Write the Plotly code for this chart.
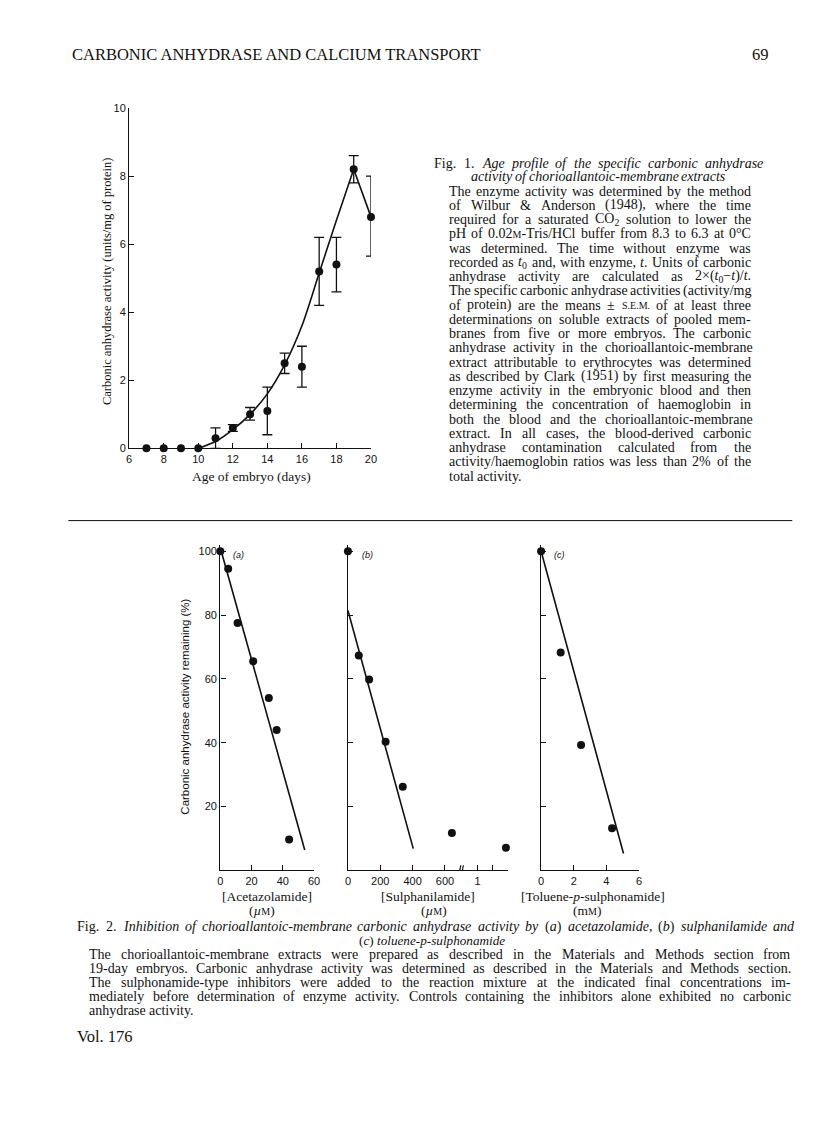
import re
import plotly.graph_objects as go

W, H = 816, 1136
SERIF = "Liberation Serif"
SANS = "Liberation Sans"
INK = "#111111"

# Fig. 1 - age profile (units/mg of protein)
age_days = [7, 8, 9, 10, 11, 12, 13, 14, 15, 16, 17, 18, 19, 20]
activity = [0, 0, 0, 0, 0.3, 0.6, 1.0, 1.1, 2.5, 2.4, 5.2, 5.4, 8.2, 6.8]
sem_up = [0, 0, 0, 0, 0.3, 0.1, 0.2, 0.7, 0.3, 0.6, 1.0, 0.8, 0.4, 1.2]
sem_down = [0, 0, 0, 0, 0.3, 0.1, 0.17, 0.7, 0.3, 0.6, 1.0, 0.8, 0.4, 1.15]
curve_days = [10, 11, 12, 13, 14, 15, 16, 17, 18, 19]
curve_vals = [0, 0.2, 0.55, 1.0, 1.6, 2.45, 3.6, 5.15, 6.7, 8.2]

# Fig. 2 - % activity remaining
acet_um = [0, 5, 11, 21, 31, 36, 44]
acet_pct = [100, 94.5, 77.5, 65.5, 54, 44, 9.7]
acet_fit_x = [0, 54]
acet_fit_y = [101, 6.4]

sulph_um = [0, 67, 131, 233, 339, 643, 2850]
sulph_pct = [100, 67.3, 59.8, 40.3, 26.2, 11.7, 7.1]
sulph_fit_x = [0, 404]
sulph_fit_y = [81.4, 6.8]
sulph_ticks = [0, 200, 400, 600, 1000, 3000]
sulph_ticktext = ["0", "200", "400", "600", "1", "3"]
sulph_minor = [2000]

tol_mm = [0, 1.2, 2.45, 4.35]
tol_pct = [100, 68.3, 39.3, 13.2]
tol_fit_x = [0, 5.05]
tol_fit_y = [100, 5.3]


def px(x):
    return x / W


def py(y):
    return 1 - y / H


def brk(c):
    # broken axis: uM up to the break, then mM on a compressed scale
    if c <= 700:
        return c
    return 802 + (c / 1000 - 1) * 94.7


dot = dict(color=INK, size=8)
fig = go.Figure()

# ---- Fig. 1
e_idx = [i for i in range(len(age_days)) if sem_up[i] > 0]
fig.add_trace(go.Scatter(x=curve_days, y=curve_vals, mode="lines",
                         line=dict(color=INK, width=1.6, shape="spline", smoothing=0.8),
                         xaxis="x", yaxis="y"))
fig.add_trace(go.Scatter(x=age_days[-2:], y=activity[-2:], mode="lines",
                         line=dict(color=INK, width=1.6), xaxis="x", yaxis="y"))
fig.add_trace(go.Scatter(x=[age_days[i] for i in e_idx], y=[activity[i] for i in e_idx],
                         mode="markers", marker=dict(size=1, color=INK),
                         error_y=dict(type="data", symmetric=False,
                                      array=[sem_up[i] for i in e_idx],
                                      arrayminus=[sem_down[i] for i in e_idx],
                                      color=INK, thickness=1.3, width=5),
                         cliponaxis=False, xaxis="x", yaxis="y"))
fig.add_trace(go.Scatter(x=age_days, y=activity, mode="markers", marker=dot,
                         cliponaxis=False, xaxis="x", yaxis="y"))

# ---- Fig. 2 panels
fig.add_trace(go.Scatter(x=acet_fit_x, y=acet_fit_y, mode="lines",
                         line=dict(color=INK, width=1.6), xaxis="x2", yaxis="y2"))
fig.add_trace(go.Scatter(x=acet_um, y=acet_pct, mode="markers", marker=dot,
                         cliponaxis=False, xaxis="x2", yaxis="y2"))
fig.add_trace(go.Scatter(x=sulph_fit_x, y=sulph_fit_y, mode="lines",
                         line=dict(color=INK, width=1.6), xaxis="x3", yaxis="y3"))
fig.add_trace(go.Scatter(x=[brk(c) for c in sulph_um], y=sulph_pct, mode="markers",
                         marker=dot, cliponaxis=False, xaxis="x3", yaxis="y3"))
fig.add_trace(go.Scatter(x=tol_fit_x, y=tol_fit_y, mode="lines",
                         line=dict(color=INK, width=1.6), xaxis="x4", yaxis="y4"))
fig.add_trace(go.Scatter(x=tol_mm, y=tol_pct, mode="markers", marker=dot,
                         cliponaxis=False, xaxis="x4", yaxis="y4"))

ax = dict(showline=True, linecolor=INK, linewidth=1.4, ticks="inside", ticklen=5,
          tickwidth=1.3, tickcolor=INK, showgrid=False, zeroline=False,
          tickfont=dict(family=SANS, size=11, color=INK))

fig2_y = [py(865.5), py(536.5)]
fig.update_layout(
    width=W, height=H, margin=dict(l=0, r=0, t=0, b=0),
    paper_bgcolor="white", plot_bgcolor="white", showlegend=False,
    xaxis=dict(ax, domain=[px(119.5), px(364)], range=[6, 20],
               tickvals=[6, 8, 10, 12, 14, 16, 18, 20], anchor="y"),
    yaxis=dict(ax, domain=[py(439), py(95)], range=[0, 10],
               tickvals=[0, 2, 4, 6, 8, 10], anchor="x"),
    xaxis2=dict(ax, domain=[px(211.7), px(306.5)], range=[0, 60],
                tickvals=[0, 20, 40, 60], anchor="y2"),
    yaxis2=dict(ax, domain=fig2_y, range=[0, 102],
                tickvals=[20, 40, 60, 80, 100], anchor="x2"),
    xaxis3=dict(ax, domain=[px(340.7), px(502.7)], range=[0, 991],
                tickvals=[brk(c) for c in sulph_ticks], ticktext=sulph_ticktext,
                minor=dict(tickvals=[brk(c) for c in sulph_minor], ticks="inside",
                           ticklen=5, tickwidth=1.3, tickcolor=INK),
                anchor="y3"),
    yaxis3=dict(ax, domain=fig2_y, range=[0, 102], tickvals=[20, 40, 60, 80, 100],
                showticklabels=False, anchor="x3"),
    xaxis4=dict(ax, domain=[px(536), px(635)], range=[0, 6],
                tickvals=[0, 2, 4, 6], anchor="y4"),
    yaxis4=dict(ax, domain=fig2_y, range=[0, 102], tickvals=[20, 40, 60, 80, 100],
                showticklabels=False, anchor="x4"),
)

# axis break marks on the sulphanilamide axis
for dx in (-8, 8):
    fig.add_shape(type="line", xref="x3", yref="y3", x0=700 + dx - 6, y0=-1.6,
                  x1=700 + dx + 6, y1=1.6, line=dict(color=INK, width=1.2))

# Times metrics (per 1000 em) so caption lines can be justified like the page
LOW = "abcdefghijklmnopqrstuvwxyz"
UP = "ABCDEFGHIJKLMNOPQRSTUVWXYZ"
ROM = dict(zip(LOW, [444, 500, 444, 500, 444, 333, 500, 500, 278, 278, 500, 278, 778,
                     500, 500, 500, 500, 333, 389, 278, 500, 500, 722, 500, 500, 444]))
ROM.update(zip(UP, [722, 667, 667, 722, 611, 556, 722, 722, 333, 389, 722, 611, 889,
                    722, 722, 556, 722, 667, 556, 611, 722, 722, 944, 722, 722, 611]))
ITA = dict(zip(LOW, [500, 500, 444, 500, 444, 278, 500, 500, 278, 278, 444, 278, 722,
                     500, 500, 500, 500, 389, 389, 278, 500, 444, 667, 444, 444, 389]))
ITA.update(zip(UP, [611, 611, 667, 722, 611, 611, 722, 722, 333, 444, 667, 556, 833,
                    667, 722, 611, 722, 611, 500, 556, 722, 611, 833, 611, 556, 556]))
PUN = {" ": 250, ".": 250, ",": 250, "-": 333, "(": 333, ")": 333, "/": 278, ":": 278,
       "&": 778, "%": 833, "±": 564, "×": 564, "°": 400, "−": 564, "µ": 500}


def text_width(s, size):
    w, italic, scales = 0.0, False, [1.0]
    for tok in re.split(r"(<[^>]+>)", s):
        if tok.startswith("<"):
            t = tok.lower()
            if t == "<i>":
                italic = True
            elif t == "</i>":
                italic = False
            elif t.startswith("<sub"):
                scales.append(scales[-1] * 0.7)
            elif t.startswith("<span"):
                m = re.search(r"font-size:([\d.]+)px", t)
                scales.append(float(m.group(1)) / size if m else scales[-1])
            elif t in ("</sub>", "</span>"):
                scales.pop()
            continue
        for ch in tok:
            tab = ITA if italic else ROM
            w += tab.get(ch, PUN.get(ch, 500)) * size * scales[-1] / 1000
    return w


def split_words(line):
    out, italic = [], False
    for w in re.split(r" (?![^<]*>)", line):
        pre = "<i>" if italic else ""
        for tag in re.findall(r"<(/?)i>", w):
            italic = tag == ""
        out.append(pre + w + ("</i>" if italic else ""))
    return out


ann = []


def txt(x, y, s, size=14, font=SERIF, anchor="left", angle=0):
    ann.append(dict(x=px(x), y=py(y), xref="paper", yref="paper", text=s,
                    showarrow=False, xanchor=anchor, yanchor="middle",
                    borderpad=0, borderwidth=0, textangle=angle,
                    font=dict(family=font, size=size, color=INK)))


def line_of(x0, x1, y, s, size=14.0, justify=True):
    words = split_words(s)
    ws = [text_width(w, size) for w in words]
    gap = 0.25 * size
    if justify and len(words) > 1:
        gap = max((x1 - x0 - sum(ws)) / (len(words) - 1), 0.2 * size)
    x = x0
    for w, wd in zip(words, ws):
        txt(x, y, w, size=size)
        x += wd + gap


sc = "<span style='font-size:10px'>%s</span>"

# header
txt(62, 41, "CARBONIC ANHYDRASE AND CALCIUM TRANSPORT", size=16.5)
txt(766, 41, "69", size=16.5, anchor="right")

# fig 1 axis titles
txt(97, 270, "Carbonic anhydrase activity (units/mg of protein)", size=12.5, angle=-90,
    anchor="center")
txt(243, 467, "Age of embryo (days)", size=13.5, anchor="center")

# fig 1 caption
cap1 = [
    "The enzyme activity was determined by the method",
    "of Wilbur & Anderson (1948), where the time",
    "required for a saturated CO<sub>2</sub> solution to lower the",
    "pH of 0.02" + sc % "M" + "-Tris/HCl buffer from 8.3 to 6.3 at 0°C",
    "was determined. The time without enzyme was",
    "recorded as <i>t</i><sub>0</sub> and, with enzyme, <i>t</i>. Units of carbonic",
    "anhydrase activity are calculated as 2×(<i>t</i><sub>0</sub>−<i>t</i>)/<i>t</i>.",
    "The specific carbonic anhydrase activities (activity/mg",
    "of protein) are the means ± " + sc % "S.E.M." + " of at least three",
    "determinations on soluble extracts of pooled mem-",
    "branes from five or more embryos. The carbonic",
    "anhydrase activity in the chorioallantoic-membrane",
    "extract attributable to erythrocytes was determined",
    "as described by Clark (1951) by first measuring the",
    "enzyme activity in the embryonic blood and then",
    "determining the concentration of haemoglobin in",
    "both the blood and the chorioallantoic-membrane",
    "extract. In all cases, the blood-derived carbonic",
    "anhydrase contamination calculated from the",
    "activity/haemoglobin ratios was less than 2% of the",
    "total activity.",
]
line_of(428, 760, 150.7, "Fig. 1. <i>Age profile of the specific carbonic anhydrase</i>")
line_of(465, 723, 164.5, "<i>activity of chorioallantoic-membrane extracts</i>", justify=False)
for i, s in enumerate(cap1):
    line_of(443, 748, 179 + i * 14.4, s, justify=i < len(cap1) - 1)

# rule between figures
fig.add_shape(type="line", xref="paper", yref="paper", x0=px(58), x1=px(790),
              y0=py(512), y1=py(512), line=dict(color=INK, width=1))

# fig 2 labels
txt(176, 700, "Carbonic anhydrase activity remaining (%)", size=11.5, font=SANS,
    angle=-90, anchor="center")
txt(230, 547, "<i>(a)</i>", size=9, font=SANS, anchor="center")
txt(360, 547, "<i>(b)</i>", size=9, font=SANS, anchor="center")
txt(555, 547, "<i>(c)</i>", size=9, font=SANS, anchor="center")
txt(259, 892, "[Acetazolamide]", size=13.5, anchor="center")
txt(254, 906, "(<i>µ</i>" + sc % "M" + ")", size=13.5, anchor="center")
txt(422, 892, "[Sulphanilamide]", size=13.5, anchor="center")
txt(428, 906, "(<i>µ</i>" + sc % "M" + ")", size=13.5, anchor="center")
txt(588, 892, "[Toluene-<i>p</i>-sulphonamide]", size=13.5, anchor="center")
txt(582, 906, "(m" + sc % "M" + ")", size=13.5, anchor="center")

# fig 2 caption
line_of(67, 792, 922.7, "Fig. 2. <i>Inhibition of chorioallantoic-membrane carbonic anhydrase "
        "activity by</i> (<i>a</i>) <i>acetazolamide</i>, (<i>b</i>) <i>sulphanilamide and</i>")
line_of(352, 500, 936.7, "(<i>c</i>) <i>toluene-p-sulphonamide</i>", size=13.2, justify=False)
cap2 = [
    "The chorioallantoic-membrane extracts were prepared as described in the Materials and Methods section from",
    "19-day embryos. Carbonic anhydrase activity was determined as described in the Materials and Methods section.",
    "The sulphonamide-type inhibitors were added to the reaction mixture at the indicated final concentrations im-",
    "mediately before determination of enzyme activity. Controls containing the inhibitors alone exhibited no carbonic",
    "anhydrase activity.",
]
for i, s in enumerate(cap2):
    line_of(79, 788, 950.7 + i * 14.1, s, justify=i < len(cap2) - 1)
txt(67, 1033, "Vol. 176", size=16.5)

fig.update_layout(annotations=ann)
fig.write_html("out.html")
